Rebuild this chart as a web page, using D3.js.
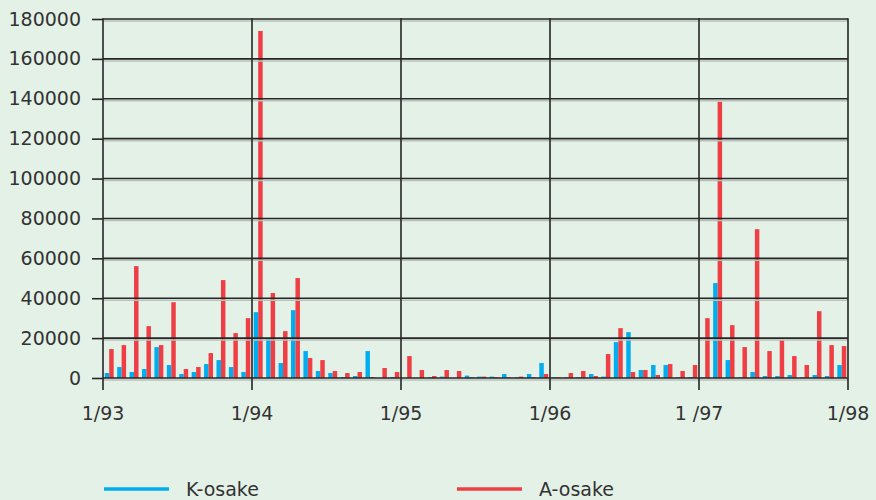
<!DOCTYPE html>
<html>
<head>
<meta charset="utf-8">
<script src="https://cdn.jsdelivr.net/npm/d3@7"></script>
<style>
  body { margin: 0; background: #e3f1e7; }
  svg { display: block; }
  text { font-family: "DejaVu Sans", sans-serif; fill: #333; }
</style>
</head>
<body>
<div id="chart"></div>
<script>
// monthly values 1/93 .. 12/97
var kOsake = [
  2500, 5500, 3000, 4500, 15500, 6500, 2000, 3000, 7000, 9000, 5500, 3000,
  33000, 20000, 7500, 34000, 13500, 3500, 2500, 500, 1000, 13500, 0, 500,
  0, 0, 300, 700, 0, 1200, 700, 700, 2000, 300, 2000, 7500,
  300, 300, 300, 2000, 700, 18000, 23000, 4000, 6500, 6500, 300, 500,
  300, 47600, 9000, 300, 3000, 1000, 1000, 1500, 300, 1500, 1000, 6500
];
var aOsake = [
  14500, 16500, 56100, 26000, 16500, 38000, 4500, 5500, 12500, 49100, 22500, 30000,
  174000, 42600, 23500, 50100, 10000, 9000, 3500, 2500, 3000, 500, 5000, 3000,
  11000, 4000, 1000, 4000, 3500, 300, 700, 300, 300, 700, 300, 2000,
  300, 2500, 3500, 1000, 12000, 25000, 3000, 4000, 1500, 7000, 3500, 6500,
  30000, 138500, 26500, 15500, 74600, 13500, 19000, 11000, 6500, 33500, 16500, 16000
];
var yearLabels = ["1/93", "1/94", "1/95", "1/96", "1 /97", "1/98"];
var yTicks = [0, 20000, 40000, 60000, 80000, 100000, 120000, 140000, 160000, 180000];
var seriesNames = ["K-osake", "A-osake"];
var colors = ["#00aeef", "#ef3e44"];

var width = 876, height = 500;
var plotLeft = 103, plotRight = 848, plotTop = 19, plotBottom = 378;

var svg = d3.select("#chart").append("svg")
    .attr("width", width)
    .attr("height", height);

svg.append("rect").attr("width", width).attr("height", height).attr("fill", "#e3f1e7");

var months = d3.range(kOsake.length);

//Scales
var x = d3.scaleBand().domain(months).range([plotLeft, plotRight]).paddingInner(0.28).paddingOuter(0.14);
var xSeries = d3.scaleBand().domain([0, 1]).range([0, x.bandwidth()]);
var xYear = d3.scaleLinear().domain([0, yearLabels.length - 1]).range([plotLeft, plotRight]);
var y = d3.scaleLinear().domain([0, 180000]).range([plotBottom, plotTop]);

//Bars
var groups = svg.append("g").selectAll("g")
    .data(months)
    .enter().append("g")
    .attr("transform", function(i) { return "translate(" + x(i) + ",0)"; });

groups.selectAll("rect")
    .data(function(i) { return [kOsake[i], aOsake[i]]; })
    .enter().append("rect")
    .attr("x", function(d, j) { return xSeries(j); })
    .attr("width", xSeries.bandwidth())
    .attr("y", function(d) { return y(d); })
    .attr("height", function(d) { return y(0) - y(d); })
    .attr("fill", function(d, j) { return colors[j]; });

//Horizontal grid (with light shadow)
var grid = svg.append("g");
grid.selectAll("line.shadow")
    .data(yTicks)
    .enter().append("line")
    .attr("class", "shadow")
    .attr("x1", plotLeft).attr("x2", plotRight)
    .attr("y1", function(d) { return y(d) + 2; })
    .attr("y2", function(d) { return y(d) + 2; })
    .attr("stroke", "#b8c0ba").attr("stroke-width", 1.5);
grid.selectAll("line.main")
    .data(yTicks)
    .enter().append("line")
    .attr("class", "main")
    .attr("x1", plotLeft).attr("x2", plotRight)
    .attr("y1", function(d) { return y(d); })
    .attr("y2", function(d) { return y(d); })
    .attr("stroke", "#262626").attr("stroke-width", 1.6);

//Vertical grid at years
grid.selectAll("line.vert")
    .data(yearLabels)
    .enter().append("line")
    .attr("class", "vert")
    .attr("x1", function(d, i) { return xYear(i); })
    .attr("x2", function(d, i) { return xYear(i); })
    .attr("y1", plotTop - 0.8)
    .attr("y2", plotBottom + 12)
    .attr("stroke", "#262626").attr("stroke-width", 1.6);

//Y axis
var yAxis = svg.append("g")
    .attr("transform", "translate(" + plotLeft + ",0)")
    .call(d3.axisLeft(y).tickValues(yTicks).tickSize(11).tickPadding(11).tickFormat(d3.format("d")));
yAxis.select(".domain").remove();
yAxis.selectAll("line").attr("stroke", "#262626").attr("stroke-width", 1.6);
yAxis.selectAll("text").style("font-size", "19px").attr("fill", "#333")
    .style("font-family", "'DejaVu Sans', sans-serif");

//X labels
svg.append("g").selectAll("text")
    .data(yearLabels)
    .enter().append("text")
    .attr("x", function(d, i) { return xYear(i); })
    .attr("y", 413)
    .attr("dy", "0.35em")
    .attr("text-anchor", "middle")
    .style("font-size", "19px")
    .text(function(d) { return d; });

//Legend
var legend = svg.append("g").selectAll("g")
    .data(seriesNames)
    .enter().append("g")
    .attr("transform", function(d, i) { return "translate(" + (104 + i * 353) + ",489)"; });
legend.append("line")
    .attr("x1", 0).attr("x2", 65)
    .attr("stroke", function(d, i) { return colors[i]; })
    .attr("stroke-width", 3.5);
legend.append("text")
    .attr("x", 82)
    .attr("dy", "0.35em")
    .style("font-size", "19px")
    .text(function(d) { return d; });
</script>
</body>
</html>
